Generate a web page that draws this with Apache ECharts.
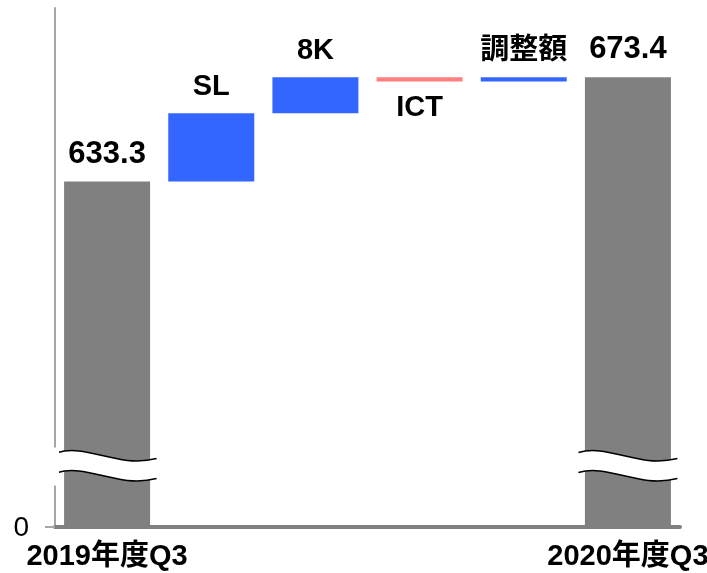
<!DOCTYPE html>
<html>
<head>
<meta charset="utf-8">
<script src="https://cdn.jsdelivr.net/npm/echarts@6/dist/echarts.min.js"></script>
<style>
html, body { margin: 0; padding: 0; background: #fff; }
#main { width: 707px; height: 573px; }
</style>
</head>
<body>
<div id="main"></div>
<script>
// データ
var categories = ['2019年度Q3', 'SL', '8K', 'ICT', '調整額', '2020年度Q3'];
var startTotal = 633.3;
var endTotal = 673.4;
var deltas = [26.2, 13.9, -1.7, 1.7]; // SL, 8K, ICT, 調整額
var yTickLabels = ['0'];
var breakStart = 16;
var breakEnd = 531;

var fontFamily = '"Liberation Sans", "Noto Sans CJK JP", sans-serif';
var grayColor = '#808080';
var upColor = '#3366ff';
var downColor = '#ff7f7f';
var axisColor = '#a6a6a6';

// 積み上げ用の土台と表示値を作る
var baseData = [0];
var barData = [{
    value: startTotal,
    itemStyle: { color: grayColor },
    label: { position: 'top', formatter: startTotal.toFixed(1), fontSize: 31 }
}];
var running = startTotal;
deltas.forEach(function (d, i) {
    var name = categories[i + 1];
    if (d >= 0) {
        baseData.push(running);
        barData.push({ value: d, itemStyle: { color: upColor }, label: { position: 'top', formatter: name } });
    } else {
        baseData.push(running + d);
        barData.push({ value: -d, itemStyle: { color: downColor }, label: { position: 'bottom', formatter: name } });
    }
    running += d;
});
baseData.push(0);
barData.push({
    value: endTotal,
    itemStyle: { color: grayColor },
    label: { position: 'top', formatter: endTotal.toFixed(1), fontSize: 31 }
});

var chart = echarts.init(document.getElementById('main'));

var option = {
    animation: false,
    grid: { left: 55, right: 27, top: 8, bottom: 46, containLabel: false, outerBoundsMode: 'none' },
    xAxis: {
        type: 'category',
        data: categories,
        axisLine: { lineStyle: { color: grayColor, width: 4 } },
        axisTick: { show: false },
        axisLabel: {
            interval: 0,
            margin: 15,
            fontSize: 29,
            fontWeight: 'bold',
            color: '#000',
            fontFamily: fontFamily,
            formatter: function (v, i) {
                return (i === 0 || i === categories.length - 1) ? v : '';
            }
        }
    },
    yAxis: {
        type: 'value',
        min: 0,
        max: 700,
        breaks: [{ start: breakStart, end: breakEnd, gap: '7.3%' }],
        breakArea: { show: false },
        axisLine: { show: true, lineStyle: { color: axisColor, width: 2 } },
        axisTick: { show: false },
        axisLabel: { show: false },
        splitLine: { show: false }
    },
    series: [
        {
            type: 'bar',
            stack: 'w',
            barWidth: 86,
            silent: true,
            itemStyle: { color: 'transparent' },
            data: baseData
        },
        {
            type: 'bar',
            stack: 'w',
            barWidth: 86,
            silent: true,
            label: {
                show: true,
                distance: 12,
                fontSize: 29,
                fontWeight: 'bold',
                color: '#000',
                fontFamily: fontFamily
            },
            data: barData
        },
        {
            // 軸の省略記号（波線）と0の目盛り
            type: 'custom',
            z: 10,
            clip: false,
            silent: true,
            data: [[0, breakEnd], [categories.length - 1, breakEnd]],
            renderItem: function (params, api) {
                var idx = api.value(0);
                var hi = api.coord([idx, breakEnd]);
                var lo = api.coord([idx, breakStart]);
                var w = api.size([1, 0])[0] * 0.95;
                var x0 = hi[0] - w / 2;
                var x1 = hi[0] + w / 2;
                var t = hi[1];
                var off = 20;
                function curve(dy) {
                    return [x0, t + 5 + dy, x0 + w * 0.3, t - 4 + dy, x0 + w * 0.6, t + 21 + dy, x1, t + 11 + dy];
                }
                var a = curve(0);
                var b = curve(off);
                var fill = 'M' + a[0] + ',' + a[1] + ' C' + a[2] + ',' + a[3] + ' ' + a[4] + ',' + a[5] + ' ' + a[6] + ',' + a[7] +
                    ' L' + b[6] + ',' + b[7] + ' C' + b[4] + ',' + b[5] + ' ' + b[2] + ',' + b[3] + ' ' + b[0] + ',' + b[1] + ' Z';
                var children = [
                    { type: 'path', shape: { pathData: fill }, style: { fill: '#fff', stroke: null } },
                    { type: 'bezierCurve', shape: { x1: a[0], y1: a[1], cpx1: a[2], cpy1: a[3], cpx2: a[4], cpy2: a[5], x2: a[6], y2: a[7] }, style: { fill: null, stroke: '#000', lineWidth: 1.5 } },
                    { type: 'bezierCurve', shape: { x1: b[0], y1: b[1], cpx1: b[2], cpy1: b[3], cpx2: b[4], cpy2: b[5], x2: b[6], y2: b[7] }, style: { fill: null, stroke: '#000', lineWidth: 1.5 } }
                ];
                if (params.dataIndex === 0) {
                    var cs = params.coordSys;
                    var zero = api.coord([idx, 0]);
                    children.push({
                        type: 'rect',
                        shape: { x: cs.x - 4, y: hi[1], width: 8, height: lo[1] - hi[1] },
                        style: { fill: '#fff' }
                    });
                    children.push({
                        type: 'line',
                        shape: { x1: cs.x - 10, y1: zero[1], x2: cs.x, y2: zero[1] },
                        style: { stroke: axisColor, lineWidth: 2 }
                    });
                    children.push({
                        type: 'text',
                        x: cs.x - 26,
                        y: zero[1] + 1,
                        style: {
                            text: yTickLabels[0],
                            fontSize: 28,
                            fontFamily: 'Liberation Sans',
                            fill: '#000',
                            align: 'right',
                            verticalAlign: 'middle'
                        }
                    });
                }
                return { type: 'group', children: children };
            }
        }
    ]
};

chart.setOption(option);
</script>
</body>
</html>
